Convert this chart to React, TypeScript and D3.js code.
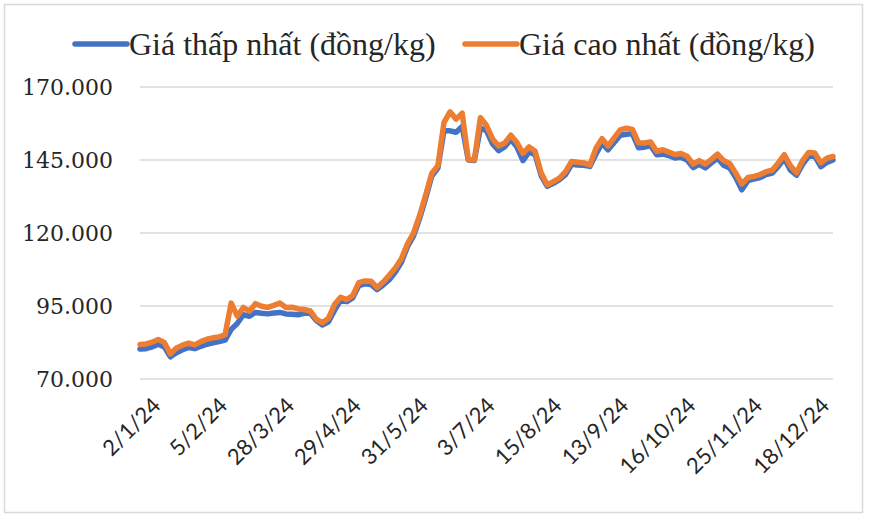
import React from "react";
import * as d3 from "d3";

const seriesNames = ["Giá thấp nhất (đồng/kg)", "Giá cao nhất (đồng/kg)"];
const seriesColors = ["#4472C4", "#ED7D31"];

const tickLabels = ["2/1/24", "5/2/24", "28/3/24", "29/4/24", "31/5/24", "3/7/24", "15/8/24", "13/9/24", "16/10/24", "25/11/24", "18/12/24"];
const tickEvery = 11;

const yTicks = [70000, 95000, 120000, 145000, 170000];

// values in thousand đồng/kg
const lowPrice = [
  80.3, 80.4, 81.0, 81.9, 81.0, 77.6, 79.0, 80.0, 80.8, 80.4,
  81.2, 81.9, 82.4, 82.8, 83.3, 87.0, 89.0, 92.0, 91.5, 92.8,
  92.5, 92.3, 92.6, 92.8, 92.3, 92.2, 92.0, 92.5, 92.6, 90.0,
  88.5, 89.6, 93.5, 97.0, 96.5, 97.8, 102.0, 102.6, 102.4, 100.6,
  102.2, 104.0, 106.6, 110.0, 115.3, 119.0, 125.0, 132.0, 139.5, 142.2,
  155.0, 155.0, 154.5, 156.5, 145.0, 144.8, 156.0, 155.0, 150.5, 148.2,
  149.5, 152.0, 149.5, 144.8, 147.8, 146.8, 139.6, 136.0, 137.0, 138.3,
  140.0, 143.5, 143.3, 143.2, 142.8, 147.0, 150.8, 148.5, 151.0, 153.5,
  153.8, 154.0, 149.2, 149.4, 149.9, 146.8, 147.0, 146.5, 145.7, 145.9,
  145.0, 142.4, 143.5, 142.3, 144.0, 145.6, 143.2, 142.3, 139.0, 134.8,
  137.9, 138.5, 139.0, 140.0, 140.5, 142.8, 145.5, 141.5, 139.8, 143.5,
  146.3, 146.3, 142.7, 144.2, 145.0,
];
const highPrice = [
  81.8, 82.0, 82.6, 83.5, 82.5, 78.6, 80.6, 81.6, 82.3, 81.7,
  82.8, 83.6, 84.1, 84.4, 85.2, 96.0, 91.5, 94.5, 93.2, 95.8,
  94.9, 94.5, 95.2, 96.0, 94.5, 94.6, 94.0, 93.8, 93.3, 90.5,
  89.2, 90.8, 95.5, 98.0, 97.2, 98.6, 103.0, 103.6, 103.5, 101.3,
  103.2, 105.5, 108.0, 111.2, 116.3, 120.0, 126.0, 133.0, 140.5, 143.0,
  157.8, 161.5, 159.0, 161.0, 145.2, 145.0, 159.5, 156.8, 152.2, 149.8,
  150.8, 153.5, 151.0, 147.3, 149.5, 148.0, 140.5, 136.5, 137.6, 138.8,
  141.0, 144.5, 144.2, 144.0, 143.3, 149.0, 152.3, 149.8, 152.6, 155.3,
  155.9, 155.5, 150.9, 150.8, 151.2, 148.0, 148.5, 147.7, 146.9, 147.2,
  146.3, 143.6, 144.8, 143.6, 145.2, 147.0, 144.8, 143.8, 140.5, 136.8,
  139.0, 139.4, 140.0, 141.0, 141.5, 144.0, 146.8, 143.0, 140.6, 144.8,
  147.6, 147.4, 144.0, 145.6, 146.2,
];

const W = 869;
const H = 517;
const plot = { left: 140, right: 833, top: 87, bottom: 379 };

export default function App() {
  const n = highPrice.length;
  const x = d3.scaleLinear().domain([0, n - 1]).range([plot.left, plot.right]);
  const y = d3.scaleLinear().domain([70000, 170000]).range([plot.bottom, plot.top]);
  const line = d3
    .line<number>()
    .x((_, i) => x(i))
    .y((d) => y(d * 1000))
    .curve(d3.curveLinear);
  const fmt = (v: number) => d3.format(",")(v).replace(/,/g, ".");
  const series = [lowPrice, highPrice];
  const legendX = [75, 465];

  return (
    <svg
      width={W}
      height={H}
      style={{ position: "absolute", left: 0, top: 0, background: "#fff" }}
    >
      <rect x={4.5} y={4.5} width={858} height={508} fill="#fff" stroke="#d9d9d9" strokeWidth={1.5} />
      {yTicks.map((t) => (
        <g key={t}>
          <line x1={plot.left} x2={plot.right} y1={y(t)} y2={y(t)} stroke="#d9d9d9" strokeWidth={1.5} />
          <text
            x={113}
            y={y(t)}
            dy="0.35em"
            textAnchor="end"
            fontFamily="DejaVu Serif"
            fontSize={22}
            fill="#262626"
          >
            {fmt(t)}
          </text>
        </g>
      ))}
      {tickLabels.map((lab, k) => {
        const xi = x(k * tickEvery);
        return (
          <text
            key={lab}
            transform={`translate(${xi + 22},${plot.bottom + 28}) rotate(-45)`}
            textAnchor="end"
            fontFamily="Lato"
            fontSize={22}
            fill="#262626"
          >
            {lab}
          </text>
        );
      })}
      {series.map((s, i) => (
        <path
          key={i}
          d={line(s) || ""}
          fill="none"
          stroke={seriesColors[i]}
          strokeWidth={5.5}
          strokeLinejoin="round"
          strokeLinecap="round"
        />
      ))}
      {seriesNames.map((name, i) => (
        <g key={name}>
          <line
            x1={legendX[i]}
            x2={legendX[i] + 52}
            y1={44}
            y2={44}
            stroke={seriesColors[i]}
            strokeWidth={5.5}
            strokeLinecap="round"
          />
          <text
            x={legendX[i] + 54}
            y={44}
            dy="0.35em"
            fontFamily="Liberation Serif"
            fontSize={32}
            fill="#262626"
          >
            {name}
          </text>
        </g>
      ))}
    </svg>
  );
}
